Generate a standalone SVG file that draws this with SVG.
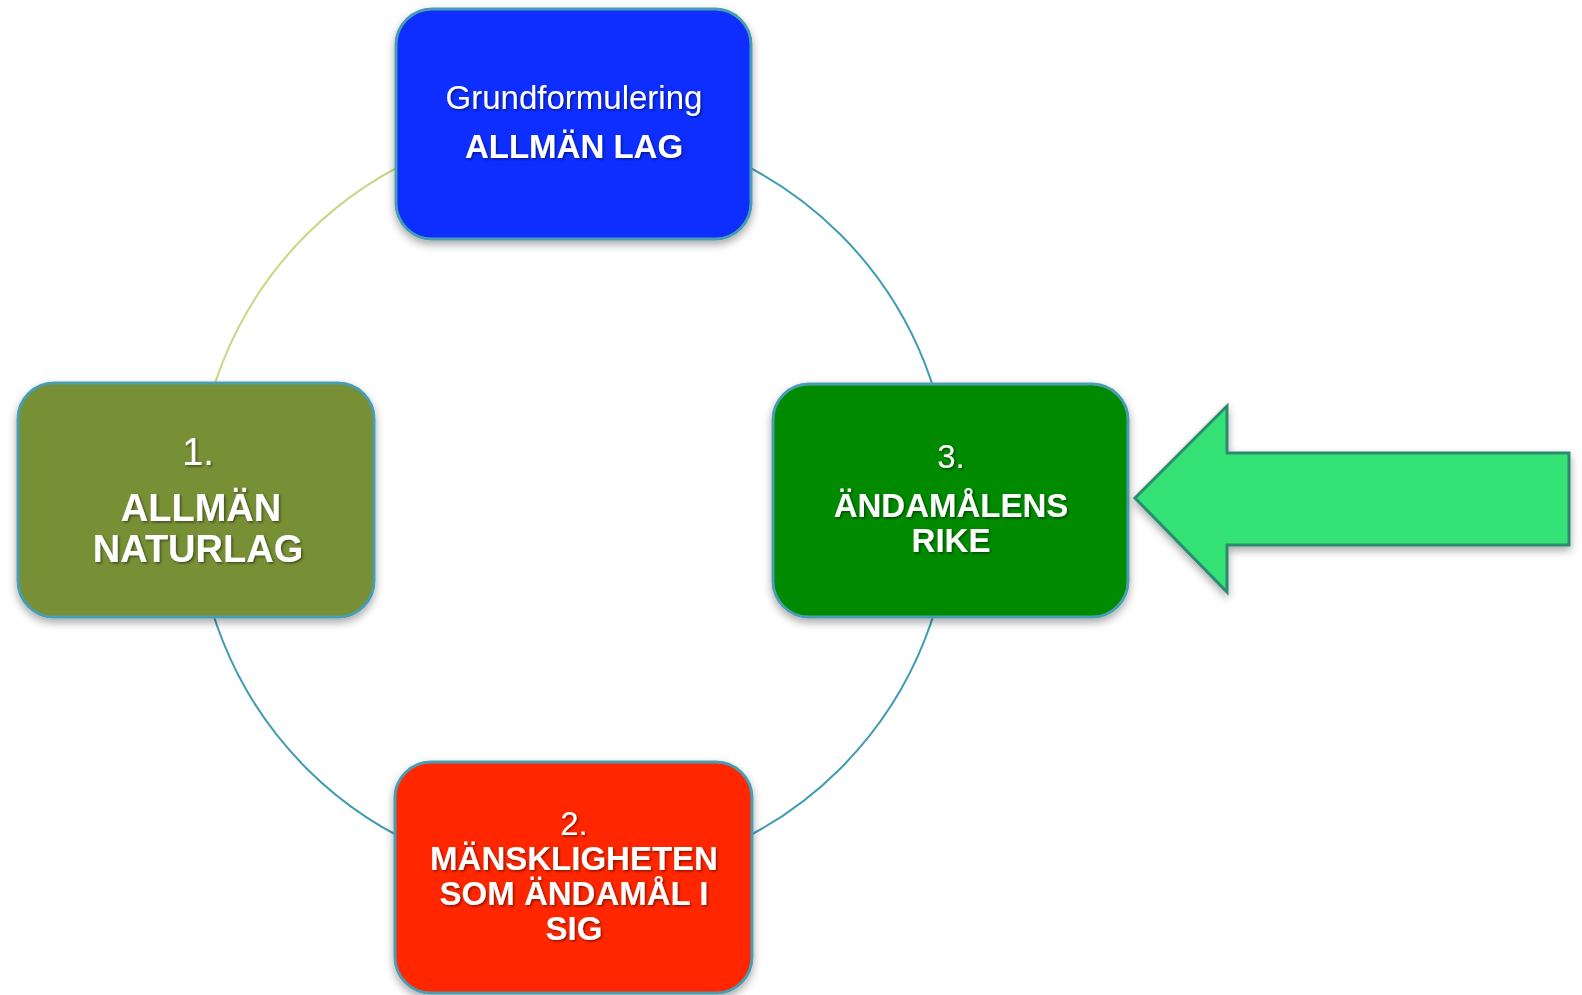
<svg xmlns="http://www.w3.org/2000/svg" width="1582" height="995" viewBox="0 0 1582 995">
<defs>
<filter id="boxShadow" x="-10%" y="-10%" width="120%" height="125%">
<feDropShadow dx="0" dy="4" stdDeviation="4" flood-color="#000" flood-opacity="0.35"/>
</filter>
<filter id="txtShadow" x="-5%" y="-20%" width="110%" height="150%">
<feDropShadow dx="1.5" dy="1.5" stdDeviation="1" flood-color="#000" flood-opacity="0.45"/>
</filter>
<style>
.box{stroke:#4a9db3;stroke-width:3;filter:url(#boxShadow);}
.txt{font-family:"Liberation Sans",Arial,sans-serif;fill:#fff;text-anchor:middle;filter:url(#txtShadow);}
.b{font-weight:bold;}
.arc{fill:none;stroke-width:2;}
</style>
</defs>
<rect width="1582" height="995" fill="#fff"/>
<g id="connectors">
<path class="arc" stroke="#c3d982" d="M573.5 124 A377.5 377.5 0 0 0 196 501.5"/>
<path class="arc" stroke="#3f9db2" d="M573.5 124 A377.5 377.5 0 0 1 951 501.5"/>
<path class="arc" stroke="#3f9db2" d="M951 501.5 A377.5 377.5 0 0 1 573.5 879"/>
<path class="arc" stroke="#3f9db2" d="M573.5 879 A377.5 377.5 0 0 1 196 501.5"/>
</g>
<g id="node-top">
<rect class="box" x="396" y="9" width="355" height="230" rx="36" fill="#0c2eff"/>
<text class="txt" x="574" y="109" font-size="33">Grundformulering</text>
<text class="txt b" x="574" y="158" font-size="33">ALLMÄN LAG</text>
</g>
<g id="node-1">
<rect class="box" x="18" y="383" width="356" height="234" rx="36" fill="#778f36"/>
<text class="txt" x="198" y="465" font-size="38">1.</text>
<text class="txt b" x="201" y="521" font-size="38">ALLMÄN</text>
<text class="txt b" x="198" y="562" font-size="38">NATURLAG</text>
</g>
<g id="node-3">
<rect class="box" x="773" y="384" width="355" height="233" rx="36" fill="#008a00"/>
<text class="txt" x="951" y="468" font-size="33">3.</text>
<text class="txt b" x="951" y="517" font-size="33">ÄNDAMÅLENS</text>
<text class="txt b" x="951" y="552" font-size="33">RIKE</text>
</g>
<g id="node-2">
<rect class="box" x="395" y="762" width="357" height="231" rx="36" fill="#ff2600"/>
<text class="txt" x="574" y="835" font-size="33">2.</text>
<text class="txt b" x="574" y="870" font-size="33">MÄNSKLIGHETEN</text>
<text class="txt b" x="574" y="905" font-size="33">SOM ÄNDAMÅL I</text>
<text class="txt b" x="574" y="940" font-size="33">SIG</text>
</g>
<g id="arrow">
<path d="M1135 498 L1227 406 L1227 453 L1569 453 L1569 545 L1227 545 L1227 592 Z" fill="#36e276" stroke="#2a8c6e" stroke-width="3" stroke-linejoin="miter" filter="url(#boxShadow)"/>
</g>
</svg>
